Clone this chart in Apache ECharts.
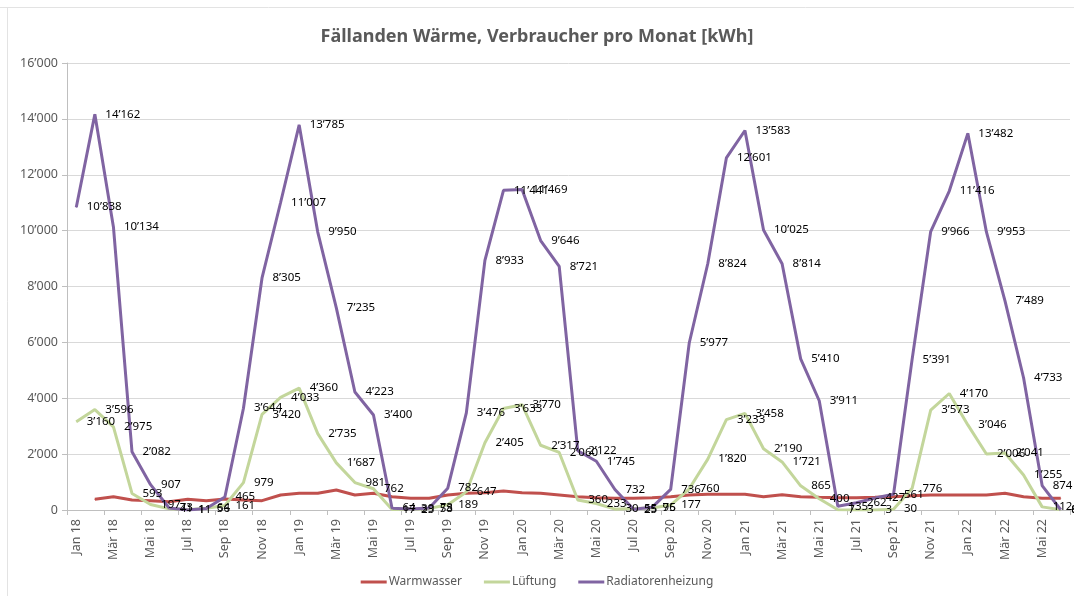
<!DOCTYPE html>
<html>
<head>
<meta charset="utf-8">
<script src="https://cdn.jsdelivr.net/npm/echarts@6/dist/echarts.min.js"></script>
<style>
  html, body { margin: 0; padding: 0; background: #fff; }
  #chart { width: 1074px; height: 596px; }
</style>
</head>
<body>
<div id="chart"></div>
<script>
// Monate Jan 18 .. Jun 22
var months = [
    'Jan 18','Feb 18','Mär 18','Apr 18','Mai 18','Jun 18','Jul 18','Aug 18','Sep 18','Okt 18','Nov 18','Dez 18',
    'Jan 19','Feb 19','Mär 19','Apr 19','Mai 19','Jun 19','Jul 19','Aug 19','Sep 19','Okt 19','Nov 19','Dez 19',
    'Jan 20','Feb 20','Mär 20','Apr 20','Mai 20','Jun 20','Jul 20','Aug 20','Sep 20','Okt 20','Nov 20','Dez 20',
    'Jan 21','Feb 21','Mär 21','Apr 21','Mai 21','Jun 21','Jul 21','Aug 21','Sep 21','Okt 21','Nov 21','Dez 21',
    'Jan 22','Feb 22','Mär 22','Apr 22','Mai 22','Jun 22'
];

var warmwasser = [
    null, 383, 477, 358, 334, 298, 382, 334, 395, 358, 334, 537,
    596, 596, 716, 537, 596, 477, 418, 418, 537, 596, 620, 680,
    620, 596, 537, 477, 442, 418, 418, 442, 477, 537, 561, 561,
    561, 477, 550, 477, 453, 441, 441, 453, 477, 513, 537, 537,
    537, 537, 596, 477, 418, 418
];

var lueftung = [
    3160, 3596, 2975, 593, 197, 41, 11, 64, 161, 979, 3420, 4033,
    4360, 2735, 1687, 981, 762, 17, 23, 58, 189, 647, 2405, 3633,
    3770, 2317, 2060, 360, 233, 30, 55, 75, 177, 760, 1820, 3233,
    3458, 2190, 1721, 865, 400, 7, 3, 3, 30, 776, 3573, 4170,
    3046, 2006, 2041, 1255, 112, 6
];

var radiatoren = [
    10838, 14162, 10134, 2082, 907, 73, 1, 56, 465, 3644, 8305, 11007,
    13785, 9950, 7235, 4223, 3400, 64, 39, 73, 782, 3476, 8933, 11441,
    11469, 9646, 8721, 2122, 1745, 732, 25, 96, 736, 5977, 8824, 12601,
    13583, 10025, 8814, 5410, 3911, 135, 262, 427, 561, 5391, 9966, 11416,
    13482, 9953, 7489, 4733, 874, 8
];

var txt = '#595959';
var font = 'Noto Sans';

function fmt(v) {
    return String(v).replace(/\B(?=(\d{3})+(?!\d))/g, '\u2019');
}

function mkSeries(name, data, color, labels) {
    return {
        name: name,
        type: 'line',
        data: data,
        symbol: 'circle',
        symbolSize: 1,
        showAllSymbol: true,
        itemStyle: { color: color },
        lineStyle: { color: color, width: 3 },
        label: {
            show: labels,
            position: 'right',
            distance: 10,
            color: '#000',
            fontFamily: font,
            fontSize: 11.5,
            formatter: function (p) { return fmt(p.value); }
        },
        emphasis: { disabled: true }
    };
}

var chart = echarts.init(document.getElementById('chart'));
var option = {
    animation: false,
    backgroundColor: '#fff',
    textStyle: { fontFamily: font },
    title: {
        text: 'Fällanden Wärme, Verbraucher pro Monat [kWh]',
        left: 'center',
        top: 23,
        textStyle: { fontFamily: font, fontSize: 18, fontWeight: 'bold', color: txt }
    },
    graphic: [
        { type: 'line', shape: { x1: 0, y1: 7.5, x2: 1074, y2: 7.5 }, style: { stroke: '#E3E3E3', lineWidth: 1 } },
        { type: 'line', shape: { x1: 7.5, y1: 7, x2: 7.5, y2: 596 }, style: { stroke: '#E3E3E3', lineWidth: 1 } }
    ],
    legend: {
        data: ['Warmwasser', 'Lüftung', 'Radiatorenheizung'],
        left: 'center',
        bottom: 3,
        icon: 'rect',
        itemWidth: 26,
        itemHeight: 3,
        itemGap: 22,
        textStyle: { fontFamily: font, fontSize: 12, color: txt, padding: [0, 0, 0, -3] }
    },
    grid: { left: 67, right: 4, top: 63, bottom: 86 },
    xAxis: {
        type: 'category',
        data: months,
        boundaryGap: true,
        axisLine: { lineStyle: { color: '#BFBFBF' } },
        axisTick: { show: true, interval: 1, length: 5, lineStyle: { color: '#BFBFBF' } },
        axisLabel: { interval: 1, rotate: 90, color: txt, fontFamily: font, fontSize: 12.5, margin: 9 }
    },
    yAxis: {
        type: 'value',
        min: 0,
        max: 16000,
        interval: 2000,
        axisLine: { show: true, lineStyle: { color: '#BFBFBF' } },
        axisTick: { show: true, length: 5, lineStyle: { color: '#BFBFBF' } },
        axisLabel: { color: txt, fontFamily: font, fontSize: 12.5, margin: 9, formatter: fmt },
        splitLine: { lineStyle: { color: '#D9D9D9' } }
    },
    series: [
        mkSeries('Warmwasser', warmwasser, '#C0504D', false),
        mkSeries('Lüftung', lueftung, '#C3D69B', true),
        mkSeries('Radiatorenheizung', radiatoren, '#8064A2', true)
    ]
};
chart.setOption(option);
</script>
</body>
</html>
